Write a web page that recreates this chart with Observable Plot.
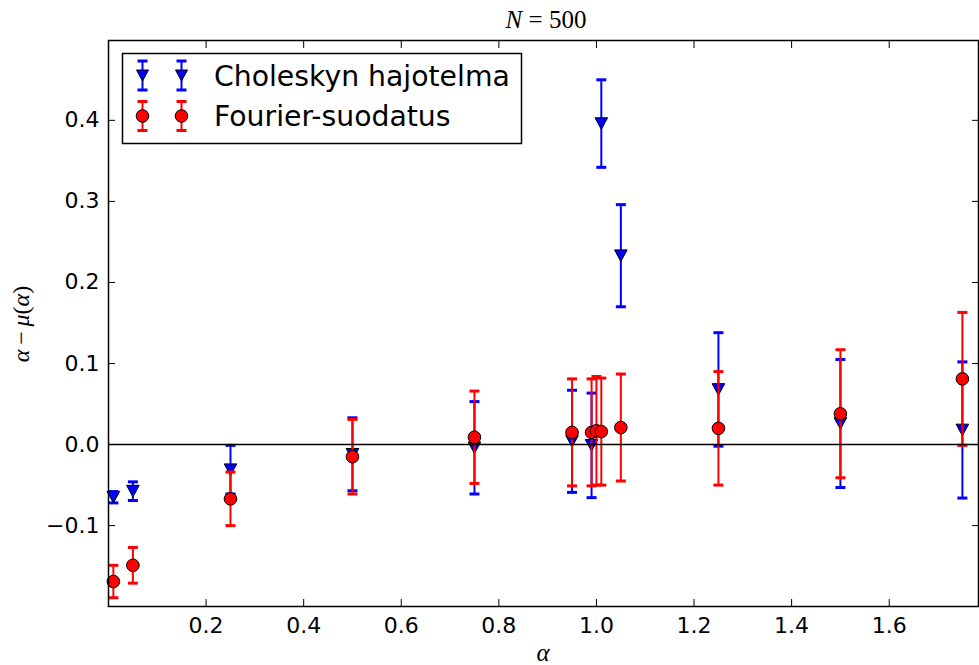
<!DOCTYPE html>
<html><head><meta charset="utf-8">
<script src="https://cdn.jsdelivr.net/npm/d3@7"></script>
<script src="https://cdn.jsdelivr.net/npm/@observablehq/plot@0.6"></script>
<style>body{margin:0;background:#fff} #chart{width:979px;height:665px}</style>
</head><body><div id="chart"></div>
<script>
// Choleskyn hajotelma (blue, triangles)
const cholX   = [0.01, 0.05, 0.25, 0.5, 0.75, 0.95, 0.99, 1.01, 1.05, 1.25, 1.5, 1.75];
const cholY   = [-0.065, -0.0575, -0.031, -0.012, -0.004, 0.004, -0.001, 0.396, 0.233, 0.068, 0.026, 0.018];
const cholErr = [0.007, 0.0115, 0.030, 0.045, 0.057, 0.063, 0.0645, 0.054, 0.063, 0.070, 0.079, 0.084];
// Fourier-suodatus (red, circles)
const fourX   = [0.01, 0.05, 0.25, 0.5, 0.75, 0.95, 0.99, 1.0, 1.01, 1.05, 1.25, 1.5, 1.75];
const fourY   = [-0.169, -0.149, -0.067, -0.015, 0.009, 0.015, 0.015, 0.017, 0.016, 0.021, 0.020, 0.038, 0.081];
const fourErr = [0.020, 0.022, 0.033, 0.046, 0.057, 0.066, 0.066, 0.067, 0.066, 0.066, 0.070, 0.079, 0.082];
const xTicks = [0.2, 0.4, 0.6, 0.8, 1.0, 1.2, 1.4, 1.6];
const yTicks = [-0.1, 0.0, 0.1, 0.2, 0.3, 0.4];
const seriesNames = ["Choleskyn hajotelma", "Fourier-suodatus"];

const chol = cholX.map((x, i) => ({x, y: cholY[i], lo: cholY[i] - cholErr[i], hi: cholY[i] + cholErr[i]}));
const four = fourX.map((x, i) => ({x, y: fourY[i], lo: fourY[i] - fourErr[i], hi: fourY[i] + fourErr[i]}));

const triDown = {draw(ctx, size) { const r = Math.sqrt(size / Math.PI); ctx.moveTo(-r, -r * 0.92); ctx.lineTo(r, -r * 0.92); ctx.lineTo(0, r * 0.92); ctx.closePath(); }};
const capSym = {draw(ctx, size) { const r = Math.sqrt(size / Math.PI); ctx.moveTo(-r, 0); ctx.lineTo(r, 0); }};
const fmt1 = d3.format(".1f");

function errMarks(data, color, symbol) {
  return [
    Plot.ruleX(data, {x: "x", y1: "lo", y2: "hi", stroke: color, strokeWidth: 2}),
    Plot.dot(data, {x: "x", y: "hi", symbol: capSym, r: 5, stroke: color, strokeWidth: 3, fill: "none"}),
    Plot.dot(data, {x: "x", y: "lo", symbol: capSym, r: 5, stroke: color, strokeWidth: 3, fill: "none"}),
    Plot.dot(data, {x: "x", y: "y", symbol, r: 6.3, fill: color, stroke: "black", strokeWidth: 1})
  ];
}

const plot = Plot.plot({
  width: 979, height: 665,
  marginLeft: 108, marginRight: 1, marginTop: 40, marginBottom: 59,
  style: {fontFamily: "DejaVu Sans", fontSize: "22px", background: "white", color: "black"},
  x: {domain: [0, 1.783], label: null},
  y: {domain: [-0.1998, 0.4985], label: null},
  marks: [
    ...errMarks(chol, "blue", triDown),
    ...errMarks(four, "red", "circle"),
    Plot.ruleY([0], {stroke: "black", strokeWidth: 1.5}),
    Plot.frame({stroke: "black", strokeWidth: 1.5}),
    Plot.axisX(xTicks, {anchor: "bottom", tickSize: -7, tickPadding: 18, tickFormat: fmt1, label: null}),
    Plot.axisX(xTicks, {anchor: "top", tickSize: -7, tickFormat: () => "", label: null}),
    Plot.axisY(yTicks, {anchor: "left", tickSize: -7, tickPadding: 16, tickFormat: fmt1, label: null}),
    Plot.axisY(yTicks, {anchor: "right", tickSize: -7, tickFormat: () => "", label: null})
  ]
});
document.getElementById("chart").appendChild(plot);

const svg = d3.select(plot);
// Title
const title = svg.append("text").attr("x", 546).attr("y", 28).attr("text-anchor", "middle")
  .attr("font-family", "Liberation Serif").style("font-size", "25px").attr("fill", "black");
title.append("tspan").attr("font-style", "italic").text("N");
title.append("tspan").text(" = 500");
// x label
svg.append("text").attr("x", 543).attr("y", 661).attr("text-anchor", "middle")
  .attr("font-family", "Liberation Serif").attr("font-style", "italic").style("font-size", "25px").attr("fill", "black").text("α");
// y label
const yl = svg.append("text").attr("transform", "translate(29,324) rotate(-90)").attr("text-anchor", "middle")
  .attr("font-family", "Liberation Serif").style("font-size", "24px").attr("fill", "black");
yl.append("tspan").attr("font-style", "italic").text("α");
yl.append("tspan").text("\u2009−\u2009");
yl.append("tspan").attr("font-style", "italic").text("μ");
yl.append("tspan").text("(");
yl.append("tspan").attr("font-style", "italic").text("α");
yl.append("tspan").text(")");

// Legend
const lg = svg.append("g");
lg.append("rect").attr("x", 122.5).attr("y", 53.5).attr("width", 399).attr("height", 90)
  .attr("fill", "white").attr("stroke", "black").attr("stroke-width", 1.5);
const rows = [
  {name: seriesNames[0], color: "blue", cy: 75.5, tri: true},
  {name: seriesNames[1], color: "red", cy: 116, tri: false}
];
rows.forEach(r => {
  [142.5, 181.5].forEach(cx => {
    lg.append("line").attr("x1", cx).attr("x2", cx).attr("y1", r.cy - 14.5).attr("y2", r.cy + 14.5).attr("stroke", r.color).attr("stroke-width", 2);
    [r.cy - 14.5, r.cy + 14.5].forEach(yy => lg.append("line").attr("x1", cx - 5).attr("x2", cx + 5).attr("y1", yy).attr("y2", yy).attr("stroke", r.color).attr("stroke-width", 3));
    if (r.tri) {
      lg.append("path").attr("d", `M${cx - 6},${r.cy - 5.5}L${cx + 6},${r.cy - 5.5}L${cx},${r.cy + 5.5}Z`).attr("fill", r.color).attr("stroke", "black").attr("stroke-width", 1);
    } else {
      lg.append("circle").attr("cx", cx).attr("cy", r.cy).attr("r", 6.3).attr("fill", r.color).attr("stroke", "black").attr("stroke-width", 1);
    }
  });
  lg.append("text").attr("x", 214).attr("y", r.cy + 10).attr("text-anchor", "start").attr("font-family", "DejaVu Sans").style("font-size", "28.3px").attr("fill", "black").text(r.name);
});
</script>
</body></html>
